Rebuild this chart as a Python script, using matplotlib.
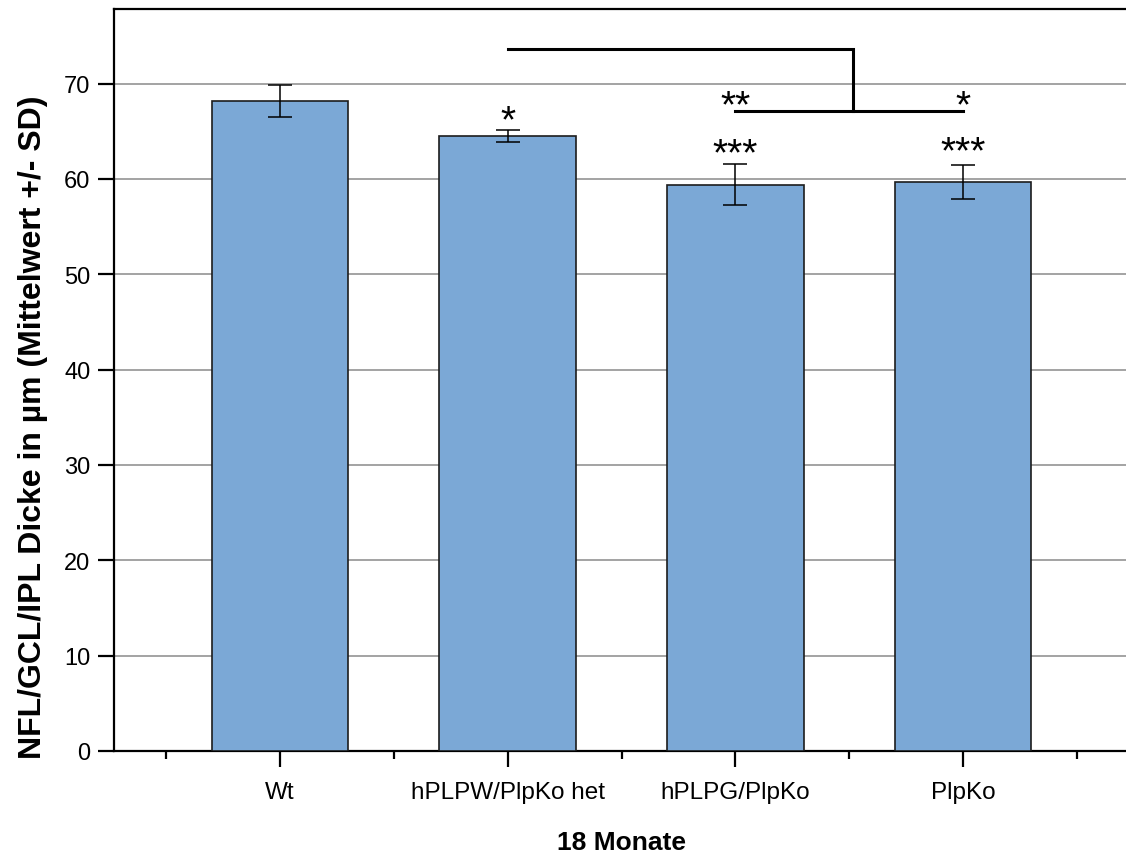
import matplotlib
matplotlib.use("Agg")
import matplotlib.pyplot as plt
import matplotlib.transforms as mtransforms
import numpy as np

plt.rcParams['font.family'] = ['Liberation Sans', 'DejaVu Sans']

# Data
groups = ["Wt", "hPLPW/PlpKo het", "hPLPG/PlpKo", "PlpKo"]
means = [68.2, 64.5, 59.4, 59.7]
sds = [1.7, 0.65, 2.15, 1.8]

# Significance marks: (group index, label, height of mark centre)
star_marks = [
    (1, "*", 66.9),
    (2, "***", 63.4),
    (3, "***", 63.6),
    (2, "**", 68.4),
    (3, "*", 68.4),
]
# Bracket heights between groups
bracket_low = 67.1
bracket_high = 73.6

W, H = 1126, 854
fig = plt.figure(figsize=(W / 100, H / 100), dpi=100)
ax = fig.add_axes([114 / W, 102 / H, 1015 / W, 742 / H])

x = np.arange(len(groups))
ax.bar(x, means, width=0.6, color="#7ba8d6", edgecolor="#1c1c1c",
       linewidth=1.2, zorder=3)
ax.errorbar(x, means, yerr=sds, fmt="none", ecolor="black", elinewidth=1.1,
            capsize=8.3, capthick=1.1, zorder=4)

ax.set_xlim(-0.729, 3.729)
ax.set_ylim(0, 77.83)

# horizontal grid
ax.set_yticks(np.arange(0, 80, 10))
ax.yaxis.grid(True, color="#a3a3a3", linewidth=1.4, zorder=0)
ax.set_axisbelow(True)

ax.set_xticks(x)
ax.set_xticklabels(groups)
ax.set_xticks(np.arange(-0.5, 4.0, 1.0), minor=True)

for side in ["left", "bottom", "top", "right"]:
    ax.spines[side].set_linewidth(1.6)
    ax.spines[side].set_color("black")

ax.tick_params(axis="y", which="major", direction="out", length=11.5,
               width=1.6, labelsize=17, pad=5.5)
ax.tick_params(axis="x", which="major", direction="out", length=11.5,
               width=1.6, labelsize=17.5, pad=10)
ax.tick_params(axis="x", which="minor", direction="out", length=6,
               width=1.6)

ax.set_ylabel("NFL/GCL/IPL Dicke in µm (Mittelwert +/- SD)", fontsize=23,
              fontweight="bold")
ax.yaxis.set_label_coords(-(114 - 33) / 1015, (752 - 427) / 742)
ax.yaxis.label.set_verticalalignment("center")

ax.set_xlabel("18 Monate", fontsize=19, fontweight="bold")
ax.xaxis.label.set_verticalalignment("baseline")
ax.xaxis.set_label_coords(0.5, -(850 - 752) / 742)

# significance brackets
mid = 2.516
ax.plot([1.0, mid, mid], [bracket_high, bracket_high, bracket_low],
        color="black", linewidth=2.2, solid_joinstyle="miter", zorder=5)
ax.plot([2.0, 3.0], [bracket_low, bracket_low], color="black",
        linewidth=2.2, zorder=5)

star_fs = 28
star_trans = mtransforms.offset_copy(ax.transData, fig=fig,
                                     y=-0.46 * star_fs, units="points")
for gi, label, yc in star_marks:
    ax.text(x[gi], yc, label, fontsize=star_fs, ha="center", va="baseline",
            transform=star_trans, zorder=6)

fig.savefig("out.png", dpi=100)
